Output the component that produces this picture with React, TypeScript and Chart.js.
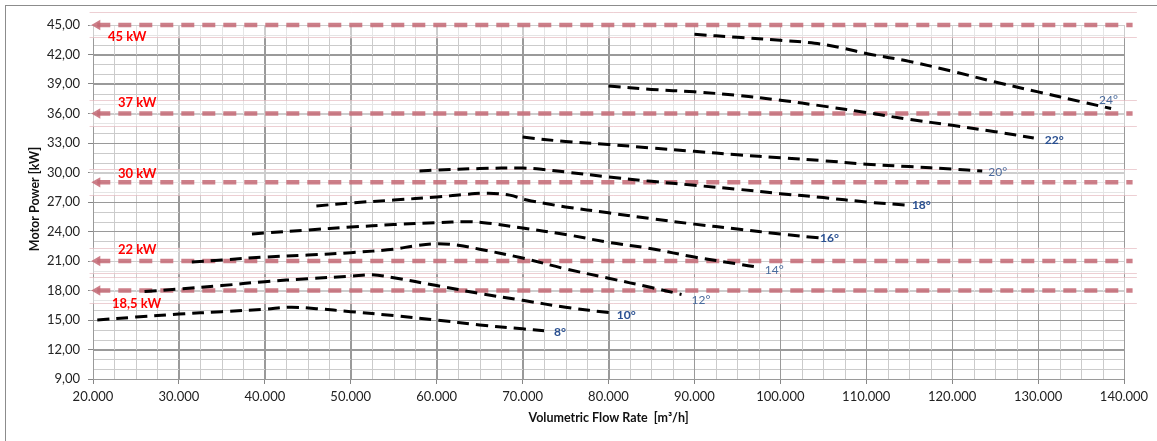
import React, { useEffect, useRef } from 'react';
import { Chart, registerables } from 'chart.js';

Chart.register(...registerables);

// ---- Data ----
const flow8 = [20500, 25000, 30000, 35000, 40000, 43000, 46000, 50000, 55000, 60000, 65000, 70000, 72500];
const power8 = [15.0, 15.3, 15.6, 15.85, 16.1, 16.3, 16.15, 15.85, 15.45, 15.0, 14.5, 14.1, 13.9];

const flow10 = [26000, 30000, 35000, 40000, 45000, 50000, 52500, 55000, 60000, 65000, 70000, 75000, 80500];
const power10 = [17.9, 18.15, 18.5, 18.9, 19.2, 19.45, 19.6, 19.3, 18.5, 17.7, 17.0, 16.3, 15.7];

const flow12 = [31500, 35000, 40000, 45000, 50000, 55000, 57500, 60000, 62500, 65000, 70000, 75000, 80000, 85000, 88500];
const power12 = [20.9, 21.1, 21.4, 21.6, 21.85, 22.2, 22.55, 22.75, 22.6, 22.2, 21.3, 20.2, 19.25, 18.3, 17.6];

const flow14 = [38500, 40000, 45000, 50000, 55000, 60000, 63500, 66000, 70000, 75000, 80000, 85000, 90000, 95000, 97500];
const power14 = [23.75, 23.85, 24.15, 24.45, 24.7, 24.9, 25.0, 24.85, 24.35, 23.7, 22.9, 22.25, 21.4, 20.7, 20.35];

const flow16 = [46000, 50000, 55000, 60000, 63000, 66000, 68500, 70500, 73000, 75000, 80000, 85000, 90000, 95000, 100000, 104500];
const power16 = [26.6, 26.9, 27.2, 27.5, 27.75, 27.9, 27.7, 27.2, 26.8, 26.5, 25.9, 25.3, 24.75, 24.25, 23.75, 23.35];

const flow18 = [58000, 60000, 65000, 70000, 72500, 75000, 80000, 85000, 90000, 95000, 100000, 105000, 110000, 114500];
const power18 = [30.15, 30.25, 30.4, 30.45, 30.3, 30.05, 29.55, 29.1, 28.7, 28.3, 27.85, 27.45, 27.0, 26.7];

const flow20 = [70000, 75000, 80000, 85000, 90000, 95000, 100000, 105000, 110000, 115000, 120000, 123500];
const power20 = [33.6, 33.15, 32.85, 32.5, 32.15, 31.8, 31.5, 31.2, 30.85, 30.6, 30.35, 30.15];

const flow22 = [80000, 85000, 90000, 95000, 100000, 105000, 110000, 115000, 120000, 125000, 129500];
const power22 = [38.8, 38.45, 38.2, 37.85, 37.35, 36.75, 36.1, 35.4, 34.8, 34.15, 33.5];

const flow24 = [90000, 95000, 100000, 104000, 107000, 110000, 115000, 120000, 125000, 130000, 135000, 138500];
const power24 = [44.05, 43.75, 43.45, 43.15, 42.7, 42.1, 41.3, 40.3, 39.2, 38.2, 37.2, 36.5];

const angles = [8, 10, 12, 14, 16, 18, 20, 22, 24];
const flows = [flow8, flow10, flow12, flow14, flow16, flow18, flow20, flow22, flow24];
const powers = [power8, power10, power12, power14, power16, power18, power20, power22, power24];

const limitValues = [45, 36, 29, 21, 18];
const limitLabels = ['45 kW', '37 kW', '30 kW', '22 kW', '18,5 kW'];
const limitFlowStart = 20500;
const limitFlowEnd = 141000;

const xMin = 20000;
const xMax = 140000;
const xMajorStep = 10000;
const xMinorStep = 2500;
const yMin = 9;
const yMax = 45;
const yMajorStep = 3;
const yMinorStep = 1;

const xTitle = 'Volumetric Flow Rate  [m³/h]';
const yTitle = 'Motor Power [kW]';

// ---- Styles (not data) ----
const FONT = 'Lato, "Noto Sans", sans-serif';
const MAJOR = '#9a9a9a';
const MINOR = '#cbcbcb';
const curveLabelStyle: Record<number, { dx: number; dy: number; bold: boolean }> = {
  8: { dx: 10, dy: 1, bold: true },
  10: { dx: 4, dy: 2, bold: true },
  12: { dx: 10, dy: 6, bold: false },
  14: { dx: 6, dy: 3, bold: false },
  16: { dx: 1, dy: 0, bold: true },
  18: { dx: 7, dy: 0, bold: true },
  20: { dx: 6, dy: 1, bold: false },
  22: { dx: 11, dy: 2, bold: true },
  24: { dx: -12, dy: -8, bold: false },
};
const limitLabelStyle = [
  { dx: 15, dy: 12 },
  { dx: 25, dy: -11 },
  { dx: 25, dy: -9 },
  { dx: 25, dy: -11 },
  { dx: 19, dy: 13 },
];

const isMul = (v: number, m: number) => Math.abs(v / m - Math.round(v / m)) < 1e-6;

function steps(min: number, max: number, step: number) {
  const out: number[] = [];
  const n = Math.round((max - min) / step);
  for (let i = 0; i <= n; i++) out.push(min + i * step);
  return out;
}

const decorPlugin = {
  id: 'decor',
  beforeDatasetsDraw(chart: any) {
    const { ctx, scales, chartArea } = chart;
    const x = scales.x;
    const y = scales.y;
    ctx.save();
    // minor grid
    ctx.strokeStyle = MINOR;
    ctx.lineWidth = 1;
    ctx.beginPath();
    steps(xMin, xMax, xMinorStep).forEach((v) => {
      if (isMul(v, xMajorStep)) return;
      const px = Math.round(x.getPixelForValue(v)) + 0.5;
      ctx.moveTo(px, chartArea.top);
      ctx.lineTo(px, chartArea.bottom);
    });
    steps(yMin, yMax, yMinorStep).forEach((v) => {
      if (isMul(v, yMajorStep)) return;
      const py = Math.round(y.getPixelForValue(v)) + 0.5;
      ctx.moveTo(chartArea.left, py);
      ctx.lineTo(chartArea.right, py);
    });
    ctx.stroke();
    // major grid on top of minor
    ctx.strokeStyle = MAJOR;
    ctx.beginPath();
    steps(xMin, xMax, xMajorStep).forEach((v) => {
      const px = Math.round(x.getPixelForValue(v)) + 0.5;
      ctx.moveTo(px, chartArea.top);
      ctx.lineTo(px, chartArea.bottom);
    });
    steps(yMin, yMax, yMajorStep).forEach((v) => {
      const py = Math.round(y.getPixelForValue(v)) + 0.5;
      ctx.moveTo(chartArea.left, py);
      ctx.lineTo(chartArea.right, py);
    });
    ctx.stroke();
    // shaded bands around power limits
    limitValues.forEach((v) => {
      const top = y.getPixelForValue(v + 1.35);
      const bot = y.getPixelForValue(v - 1.35);
      const l = x.getPixelForValue(19600);
      const r = x.getPixelForValue(141500);
      ctx.fillStyle = 'rgba(255,255,255,0.5)';
      ctx.fillRect(l, top, r - l, bot - top);
      ctx.strokeStyle = 'rgba(225,175,182,0.6)';
      ctx.lineWidth = 1;
      ctx.beginPath();
      ctx.moveTo(l, Math.round(top) + 0.5);
      ctx.lineTo(r, Math.round(top) + 0.5);
      ctx.moveTo(l, Math.round(bot) - 0.5);
      ctx.lineTo(r, Math.round(bot) - 0.5);
      ctx.stroke();
    });
    ctx.restore();
  },
  afterDatasetsDraw(chart: any) {
    const { ctx, scales, chartArea } = chart;
    const x = scales.x;
    const y = scales.y;
    ctx.save();
    ctx.fillStyle = '#ff0000';
    ctx.font = `bold 13px ${FONT}`;
    ctx.textAlign = 'left';
    ctx.textBaseline = 'middle';
    limitValues.forEach((v, i) => {
      const s = limitLabelStyle[i];
      ctx.fillText(limitLabels[i], chartArea.left + s.dx, y.getPixelForValue(v) + s.dy);
    });
    angles.forEach((a, i) => {
      const f = flows[i];
      const p = powers[i];
      const s = curveLabelStyle[a];
      const px = x.getPixelForValue(f[f.length - 1]) + s.dx;
      const py = y.getPixelForValue(p[p.length - 1]) + s.dy;
      ctx.font = `${s.bold ? 'bold ' : ''}12px ${FONT}`;
      ctx.fillStyle = s.bold ? '#2a5091' : '#4a6b9c';
      ctx.fillText(`${a}°`, px, py);
    });
    ctx.restore();
  },
  afterDraw(chart: any) {
    const { ctx, chartArea } = chart;
    ctx.save();
    ctx.fillStyle = '#111';
    ctx.font = `bold 12.5px ${FONT}`;
    ctx.textAlign = 'center';
    ctx.textBaseline = 'middle';
    ctx.fillText(xTitle, (chartArea.left + chartArea.right) / 2, 418);
    ctx.translate(35, (chartArea.top + chartArea.bottom) / 2 - 3);
    ctx.rotate(-Math.PI / 2);
    ctx.fillText(yTitle, 0, 0);
    ctx.restore();
  },
};

export default function App() {
  const ref = useRef<HTMLCanvasElement | null>(null);

  useEffect(() => {
    if (!ref.current) return;
    const curveSets = angles.map((a, i) => ({
      label: `${a}°`,
      data: flows[i].map((f, j) => ({ x: f, y: powers[i][j] })),
      showLine: true,
      borderColor: '#000000',
      backgroundColor: '#000000',
      borderWidth: 3,
      borderDash: [12, 7],
      pointRadius: 0,
      tension: 0.35,
      fill: false,
      order: 0,
    }));
    const limitSets = limitValues.map((v, i) => ({
      label: limitLabels[i],
      data: [
        { x: limitFlowStart, y: v },
        { x: limitFlowEnd, y: v },
      ],
      showLine: true,
      borderColor: 'rgba(196,104,116,0.85)',
      backgroundColor: 'rgba(196,104,116,0.85)',
      borderWidth: 4.5,
      borderDash: [13, 8],
      pointStyle: 'triangle',
      rotation: 270,
      pointRadius: [6, 0],
      pointBorderWidth: 0,
      clip: false,
      order: 1,
    }));

    const chart = new Chart(ref.current, {
      type: 'scatter',
      data: { datasets: [...curveSets, ...limitSets] as any },
      options: {
        responsive: false,
        animation: false,
        devicePixelRatio: 1,
        layout: { padding: { left: 0, right: 33, top: 25, bottom: 0 } },
        plugins: {
          legend: { display: false },
          tooltip: { enabled: false },
        },
        scales: {
          x: {
            type: 'linear',
            min: xMin,
            max: xMax,
            afterBuildTicks: (s: any) => {
              s.ticks = steps(xMin, xMax, xMajorStep).map((value) => ({ value }));
            },
            afterFit: (s: any) => {
              s.height = 62;
            },
            border: { color: '#868686', width: 1 },
            grid: { color: MAJOR, tickColor: '#868686', tickLength: 5 },
            ticks: {
              autoSkip: false,
              maxRotation: 0,
              minRotation: 0,
              padding: 5,
              color: '#222',
              font: { family: FONT, size: 13 },
              callback: (v: any) => `${Number(v) / 1000}.000`,
            },
          },
          y: {
            type: 'linear',
            min: yMin,
            max: yMax,
            afterBuildTicks: (s: any) => {
              s.ticks = steps(yMin, yMax, yMajorStep).map((value) => ({ value }));
            },
            afterFit: (s: any) => {
              s.width = 93;
            },
            border: { color: '#868686', width: 1 },
            grid: { color: MAJOR, tickColor: '#868686', tickLength: 5 },
            ticks: {
              autoSkip: false,
              padding: 8,
              color: '#222',
              font: { family: FONT, size: 13 },
              callback: (v: any) => Number(v).toFixed(2).replace('.', ','),
            },
          },
        },
      },
      plugins: [decorPlugin],
    });
    return () => chart.destroy();
  }, []);

  return (
    <div style={{ position: 'absolute', left: 0, top: 0, width: 1157, height: 441, background: '#fff', overflow: 'hidden' }}>
      <div
        style={{
          position: 'absolute',
          left: 5,
          top: 5,
          width: 1160,
          height: 450,
          borderTop: '1px solid #8c8c8c',
          borderLeft: '1px solid #8c8c8c',
        }}
      />
      <canvas ref={ref} width={1157} height={441} style={{ position: 'absolute', left: 0, top: 0 }} />
    </div>
  );
}
